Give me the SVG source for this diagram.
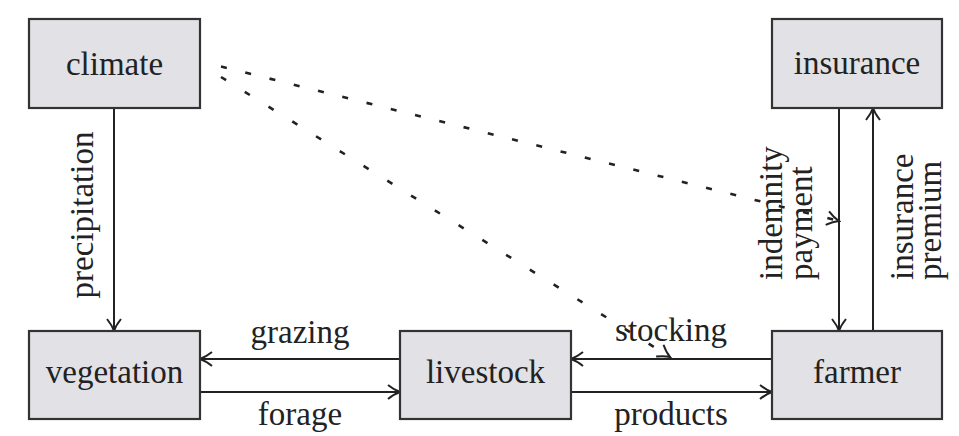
<svg xmlns="http://www.w3.org/2000/svg" width="959" height="436" viewBox="0 0 959 436">
<style>
.box{fill:#e1e1e6;stroke:#333;stroke-width:2.2}
.lbl{font-family:'Liberation Serif','Times New Roman','DejaVu Serif','Noto Serif',serif;font-size:33px;fill:#222}
.c{text-anchor:middle}
.ln{fill:none;stroke:#222;stroke-width:2}
.dash{fill:none;stroke:#222;stroke-width:2.6}
</style>
<defs>
<marker id="arr" markerUnits="userSpaceOnUse" viewBox="-14 -9 16 18" markerWidth="16" markerHeight="18" refX="0" refY="0" orient="auto">
<path d="M-12,-7 C-7,-3 -3,-1 0,0 C-3,1 -7,3 -12,7" fill="none" stroke="#222" stroke-width="2"/>
</marker>
</defs>
<rect width="959" height="436" fill="#fff"/>
<g id="connectors">
<path class="ln" d="M114,108 L114,331" marker-end="url(#arr)"/>
<path class="ln" d="M400,359 L200,359" marker-end="url(#arr)"/>
<path class="ln" d="M200,392 L400,392" marker-end="url(#arr)"/>
<path class="ln" d="M772,359 L571,359" marker-end="url(#arr)"/>
<path class="ln" d="M571,392 L772,392" marker-end="url(#arr)"/>
<path class="ln" d="M839,108 L839,331" marker-end="url(#arr)"/>
<path class="ln" d="M873,331 L873,108" marker-end="url(#arr)"/>
<path class="dash" d="M221,66.5 L839,221" stroke-dasharray="6 19" marker-end="url(#arr)"/>
<path class="dash" d="M221,77 L670,357" stroke-dasharray="6 22" marker-end="url(#arr)"/>
<text class="lbl" font-family="Liberation Serif" transform="translate(93,215) rotate(-90)" text-anchor="middle">precipitation</text>
<text class="lbl c" x="300" y="343">grazing</text>
<text class="lbl c" x="300" y="425">forage</text>
<text class="lbl c" x="671" y="341">stocking</text>
<text class="lbl c" x="671" y="425">products</text>
<text class="lbl" transform="translate(782,280) rotate(-90)">indemnity</text>
<text class="lbl" transform="translate(812,280) rotate(-90)">payment</text>
<text class="lbl" transform="translate(913,280) rotate(-90)">insurance</text>
<text class="lbl" transform="translate(941,280) rotate(-90)">premium</text>
</g>
<g id="climate"><rect class="box" x="29" y="19" width="171" height="89"/><text class="lbl c" x="114.5" y="75">climate</text></g>
<g id="insurance"><rect class="box" x="772" y="19" width="170" height="89"/><text class="lbl c" x="857" y="74">insurance</text></g>
<g id="vegetation"><rect class="box" x="29" y="331" width="171" height="88"/><text class="lbl c" x="114.5" y="383">vegetation</text></g>
<g id="livestock"><rect class="box" x="400" y="331" width="171" height="88"/><text class="lbl c" x="485.5" y="383">livestock</text></g>
<g id="farmer"><rect class="box" x="772" y="331" width="170" height="88"/><text class="lbl c" x="857" y="383">farmer</text></g>
</svg>
